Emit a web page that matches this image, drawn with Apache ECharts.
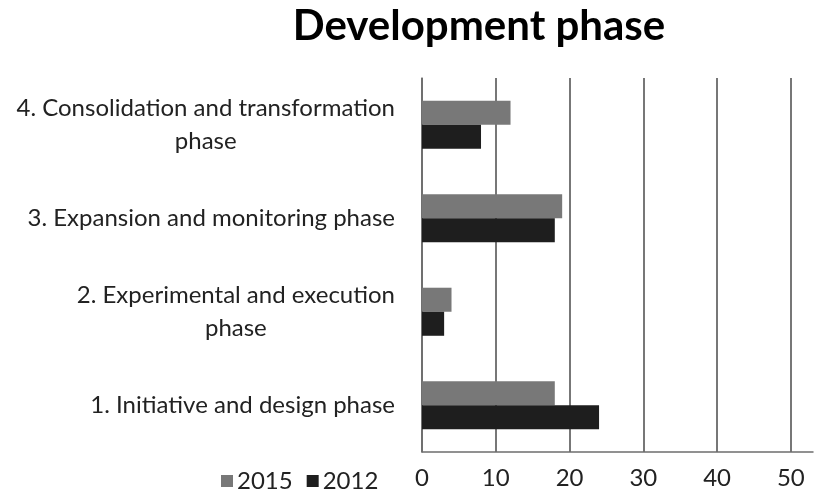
<!DOCTYPE html>
<html>
<head>
<meta charset="utf-8">
<script src="https://cdn.jsdelivr.net/npm/echarts@6/dist/echarts.min.js"></script>
<style>html,body{margin:0;padding:0;background:#fff;}#c{width:815px;height:496px;}</style>
</head>
<body>
<div id="c"></div>
<script>
var categories = [
  '1. Initiative and design phase',
  '2. Experimental and execution\nphase',
  '3. Expansion and monitoring phase',
  '4. Consolidation and transformation\nphase'
];
var values2015 = [18, 4, 19, 12];
var values2012 = [24, 3, 18, 8];
var seriesNames = ['2015', '2012'];
var xTicks = [0, 10, 20, 30, 40, 50];

var FONT = 'Lato';
var chart = echarts.init(document.getElementById('c'), null, {renderer: 'canvas'});
chart.setOption({
  animation: false,
  backgroundColor: '#ffffff',
  title: {
    text: 'Development phase',
    left: 474,
    textAlign: 'center',
    top: 0,
    textStyle: {fontFamily: FONT, fontWeight: 'bold', fontSize: 42, color: '#000'}
  },
  legend: {
    data: seriesNames,
    left: 216,
    top: 464,
    itemWidth: 12,
    itemHeight: 12,
    itemGap: 14,
    icon: 'rect',
    textStyle: {fontFamily: FONT, fontSize: 24, color: '#222', padding: [0, 0, 0, -1]}
  },
  grid: {left: 422, right: 2, top: 78, bottom: 44, containLabel: false},
  xAxis: {
    type: 'value',
    min: 0,
    max: 53,
    interval: 10,
    axisLine: {show: true, lineStyle: {color: '#6e6e6e', width: 1.5}},
    axisTick: {show: false},
    axisLabel: {
      margin: 14,
      showMaxLabel: false,
      fontFamily: FONT, fontSize: 24, color: '#222',
      formatter: function (v) { return xTicks.indexOf(v) >= 0 ? String(v) : ''; }
    },
    splitLine: {show: true, showMaxLine: false, lineStyle: {color: '#4a4a4a', width: 1.5}}
  },
  yAxis: {
    type: 'category',
    data: categories,
    axisLine: {show: true, lineStyle: {color: '#6e6e6e', width: 1.5}},
    axisTick: {show: false},
    axisLabel: {
      margin: 27,
      fontFamily: FONT, fontSize: 24, color: '#222',
      formatter: function (v) {
        return v.split('\n').map(function (s) { return '{c|' + s + '}'; }).join('\n');
      },
      rich: {c: {align: 'center', fontFamily: FONT, fontSize: 24, color: '#222', lineHeight: 33}}
    }
  },
  series: [
    {
      name: '2015', type: 'bar', data: values2015,
      itemStyle: {color: '#787878'},
      barGap: '0%', barCategoryGap: '48.6%'
    },
    {
      name: '2012', type: 'bar', data: values2012,
      itemStyle: {color: '#1e1e1e'},
      barGap: '0%', barCategoryGap: '48.6%'
    }
  ]
});
</script>
</body>
</html>
